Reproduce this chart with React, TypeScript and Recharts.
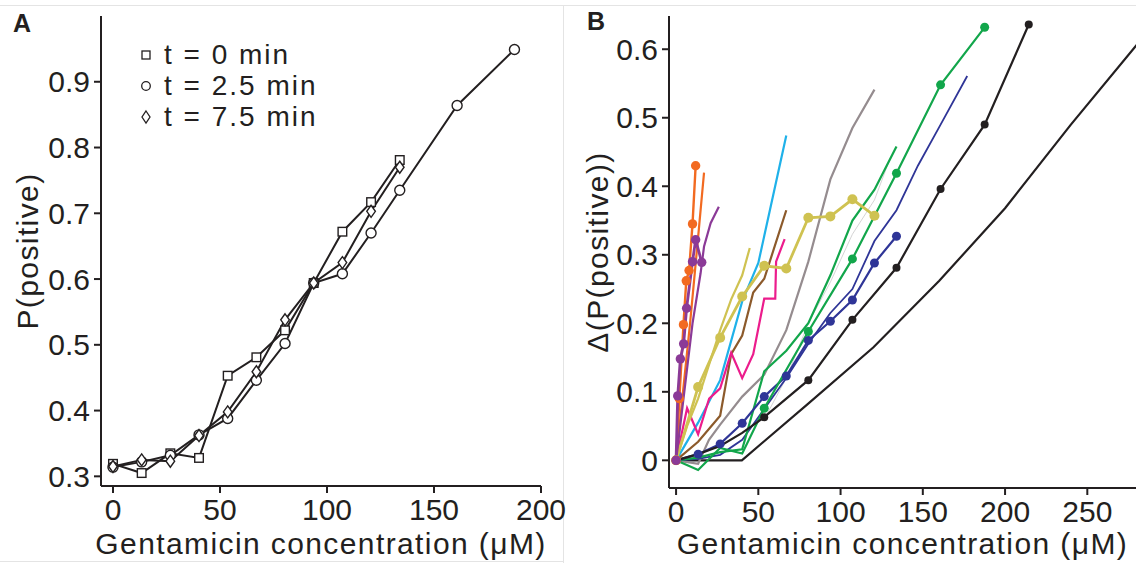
import { LineChart, Line, XAxis, YAxis, Legend } from "recharts";

const INK = "#231f20";
const FONT = "'Liberation Sans', Arial, sans-serif";

// ---- panel A: P(positive) vs gentamicin, three time points
const concA = [0, 13.4, 26.8, 40.2, 53.6, 67, 80.4, 93.8, 107.2, 120.6, 134, 160.8, 187.6];
const pT0 = [0.319, 0.305, 0.335, 0.328, 0.453, 0.481, 0.522, 0.594, 0.672, 0.717, 0.781];
const pT25 = [0.314, 0.322, 0.332, 0.363, 0.388, 0.446, 0.502, 0.594, 0.608, 0.67, 0.735, 0.864, 0.949];
const pT75 = [0.315, 0.325, 0.323, 0.362, 0.398, 0.459, 0.538, 0.594, 0.625, 0.703, 0.77];
const ticksAX = [0, 50, 100, 150, 200];
const ticksAY = [0.3, 0.4, 0.5, 0.6, 0.7, 0.8, 0.9];

// ---- panel B: [concentration, delta P(positive)] per run
const modelCurve = [[0, 0], [40, 0], [80, 0.082], [120, 0.165], [160, 0.262], [200, 0.368], [240, 0.49], [282, 0.612]];
const blackDots = [[0, 0], [13.4, 0.009], [26.8, 0.021], [40.2, 0.04], [53.6, 0.063], [80.4, 0.117], [107.2, 0.205], [134, 0.281], [160.8, 0.396], [187.6, 0.49], [214.4, 0.636]];
const greenDots = [[0, 0], [13.4, -0.014], [26.8, 0.018], [40.2, 0.01], [53.6, 0.076], [80.4, 0.188], [107.2, 0.294], [134, 0.419], [160.8, 0.548], [187.6, 0.632]];
const greenThin = [[0, 0], [13.4, 0.004], [26.8, 0.012], [40.2, 0.016], [53.6, 0.13], [67, 0.16], [80.4, 0.2], [93.8, 0.27], [107.2, 0.35], [120.6, 0.395], [134, 0.458]];
const navyDots = [[0, 0], [13.4, 0.009], [26.8, 0.024], [40.2, 0.054], [53.6, 0.093], [67, 0.123], [80.4, 0.175], [93.8, 0.203], [107.2, 0.234], [120.6, 0.288], [134, 0.327]];
const navyThin = [[0, 0], [13.4, 0.002], [26.8, 0.008], [40.2, 0.03], [53.6, 0.075], [67, 0.12], [80.4, 0.17], [93.8, 0.215], [107.2, 0.25], [120.6, 0.32], [134, 0.365], [147, 0.43], [160.8, 0.49], [177, 0.561]];
const grayRun = [[0, 0], [13.4, -0.005], [20, 0.03], [26.8, 0.052], [40.2, 0.093], [53.6, 0.125], [67, 0.19], [80.4, 0.29], [93.8, 0.41], [107.2, 0.485], [120.6, 0.541]];
const faintRun = [[53.6, 0.06], [67, 0.12], [80.4, 0.2], [93.8, 0.26], [107.2, 0.33], [120.6, 0.38], [130, 0.44]];
const yellowDots = [[0, 0], [13.4, 0.107], [26.8, 0.179], [40.2, 0.239], [53.6, 0.284], [67, 0.28], [80.4, 0.354], [93.8, 0.356], [107.2, 0.381], [120.6, 0.357]];
const yellowThin = [[0, 0], [6.7, 0.05], [13.4, 0.09], [20.1, 0.14], [26.8, 0.19], [33.5, 0.235], [40.2, 0.27], [44.8, 0.31]];
const cyanRun = [[0, 0], [13.4, 0.055], [26.8, 0.117], [40.2, 0.232], [50, 0.288], [67, 0.474]];
const brownRun = [[0, 0], [13.4, 0.027], [26.8, 0.065], [33.5, 0.155], [40.2, 0.182], [46.9, 0.245], [53.6, 0.265], [67, 0.365]];
const pinkRun = [[0, 0], [6.7, 0.076], [13.4, 0.038], [20.1, 0.09], [26.8, 0.105], [33.5, 0.157], [40.2, 0.12], [46.9, 0.155], [53.6, 0.236], [60.3, 0.236], [60.8, 0.29], [66, 0.323]];
const orangeDots = [[0, 0], [2, 0.09], [4.5, 0.198], [6.2, 0.262], [7.9, 0.277], [10, 0.345], [11.9, 0.43]];
const orangeThin = [[0, 0], [4.2, 0.1], [8.5, 0.2], [12.8, 0.31], [17, 0.42]];
const purpleDots = [[0, 0], [1, 0.094], [2.6, 0.148], [4.6, 0.17], [6.4, 0.222], [10, 0.29], [11.9, 0.322], [15.6, 0.289]];
const purpleThin = [[0, 0], [5, 0.1], [10, 0.2], [14.9, 0.273], [17, 0.312], [21, 0.346], [26, 0.37]];
const ticksBX = [0, 50, 100, 150, 200, 250];
const ticksBY = [0, 0.1, 0.2, 0.3, 0.4, 0.5, 0.6];

const pts = (arr: number[][]) => arr.map(([x, y]) => ({ x, y }));
const zipA = (ys: number[]) => ys.map((y, i) => ({ x: concA[i], y }));

const square = (p: any) => (
  <rect key={`sq${p.index}`} x={p.cx - 4.3} y={p.cy - 4.3} width={8.6} height={8.6} fill="#fff" stroke={INK} strokeWidth={1.4} />
);
const ring = (p: any) => <circle key={`ci${p.index}`} cx={p.cx} cy={p.cy} r={5} fill="#fff" stroke={INK} strokeWidth={1.4} />;
const diamond = (p: any) => (
  <polygon
    key={`di${p.index}`}
    points={`${p.cx},${p.cy - 6} ${p.cx + 4.3},${p.cy} ${p.cx},${p.cy + 6} ${p.cx - 4.3},${p.cy}`}
    fill="#fff"
    stroke={INK}
    strokeWidth={1.4}
  />
);

const markerFor: Record<string, (cx: number, cy: number) => JSX.Element> = {
  "t = 0 min": (cx, cy) => <rect x={cx - 4} y={cy - 4} width={8} height={8} fill="#fff" stroke={INK} strokeWidth={1.3} />,
  "t = 2.5 min": (cx, cy) => <circle cx={cx} cy={cy} r={4.3} fill="#fff" stroke={INK} strokeWidth={1.3} />,
  "t = 7.5 min": (cx, cy) => (
    <polygon points={`${cx},${cy - 6} ${cx + 4},${cy} ${cx},${cy + 6} ${cx - 4},${cy}`} fill="#fff" stroke={INK} strokeWidth={1.3} />
  ),
};

function LegendA({ payload }: any) {
  return (
    <div>
      {(payload || []).map((e: any) => (
        <div key={e.value} style={{ display: "flex", alignItems: "center", height: 31 }}>
          <svg width={16} height={16}>{markerFor[e.value]?.(8, 8)}</svg>
          <span style={{ marginLeft: 10, fontSize: 28, lineHeight: "31px", letterSpacing: 2, color: INK }}>{e.value}</span>
        </div>
      ))}
    </div>
  );
}

const dotB = (color: string, r: number, hide: number[] = []) => (p: any) =>
  hide.includes(p.index) ? (
    <g key={`h${p.index}`} />
  ) : (
    <circle key={`d${p.index}`} cx={p.cx} cy={p.cy} r={r} fill={color} stroke="none" />
  );

const tickStyle = { fill: INK, fontSize: 30 };
const titleStyle = { fill: INK, fontSize: 30, letterSpacing: "1.4px" };

function PanelA() {
  return (
    <LineChart width={570} height={563} margin={{ top: 16, right: 29, bottom: 0, left: 0 }}>
      <XAxis
        type="number"
        dataKey="x"
        domain={[-5.6, 200]}
        ticks={ticksAX}
        allowDataOverflow
        height={77}
        tickSize={7}
        tickMargin={6}
        tick={tickStyle}
        axisLine={{ stroke: INK, strokeWidth: 2 }}
        tickLine={{ stroke: INK, strokeWidth: 2 }}
        label={{ value: "Gentamicin concentration (μM)", position: "insideBottom", offset: 9, style: titleStyle }}
      />
      <YAxis
        type="number"
        domain={[0.2853, 1.0]}
        ticks={ticksAY}
        allowDataOverflow
        width={101}
        tickSize={7}
        tickMargin={4}
        tick={tickStyle}
        axisLine={{ stroke: INK, strokeWidth: 2 }}
        tickLine={{ stroke: INK, strokeWidth: 2 }}
        label={{ value: "P(positive)", angle: -90, position: "insideLeft", offset: 27, style: { ...titleStyle, textAnchor: "middle" } }}
      />
      <Legend
        layout="vertical"
        align="center"
        verticalAlign="middle"
        content={<LegendA />}
        wrapperStyle={{ left: 138, top: 39, width: 220 }}
      />
      <Line name="t = 0 min" data={zipA(pT0)} dataKey="y" stroke={INK} strokeWidth={2} dot={square} isAnimationActive={false} />
      <Line name="t = 2.5 min" data={zipA(pT25)} dataKey="y" stroke={INK} strokeWidth={2} dot={ring} isAnimationActive={false} />
      <Line name="t = 7.5 min" data={zipA(pT75)} dataKey="y" stroke={INK} strokeWidth={2} dot={diamond} isAnimationActive={false} />
    </LineChart>
  );
}

const runsB = [
  { key: "model", data: modelCurve, color: INK, w: 2.2, dot: false as any },
  { key: "faint", data: faintRun, color: "#c9c9c9", w: 0.8, dot: false as any },
  { key: "gray", data: grayRun, color: "#958c8f", w: 2.2, dot: false as any },
  { key: "navyThin", data: navyThin, color: "#2f3597", w: 1.8, dot: false as any },
  { key: "greenThin", data: greenThin, color: "#12a64b", w: 2.2, dot: false as any },
  { key: "navyDots", data: navyDots, color: "#2f3597", w: 2.2, dot: dotB("#2f3597", 4.5) },
  { key: "greenDots", data: greenDots, color: "#12a64b", w: 2.2, dot: dotB("#12a64b", 4.5, [1, 2, 3]) },
  { key: "blackDots", data: blackDots, color: INK, w: 2.2, dot: dotB(INK, 4, [1, 2, 3]) },
  { key: "cyan", data: cyanRun, color: "#1fb1e9", w: 2.2, dot: false as any },
  { key: "brown", data: brownRun, color: "#8c5a2b", w: 2.2, dot: false as any },
  { key: "pink", data: pinkRun, color: "#ec1c8c", w: 2.2, dot: false as any },
  { key: "yellowThin", data: yellowThin, color: "#cfc251", w: 2.2, dot: false as any },
  { key: "yellowDots", data: yellowDots, color: "#cfc251", w: 2.8, dot: dotB("#cfc251", 5) },
  { key: "orangeThin", data: orangeThin, color: "#f26a21", w: 2.2, dot: false as any },
  { key: "orangeDots", data: orangeDots, color: "#f26a21", w: 2.4, dot: dotB("#f26a21", 4.7) },
  { key: "purpleThin", data: purpleThin, color: "#8b3a97", w: 2.2, dot: false as any },
  { key: "purpleDots", data: purpleDots, color: "#8b3a97", w: 2.8, dot: dotB("#8b3a97", 4.7) },
];

function PanelB() {
  return (
    <LineChart width={561} height={563} margin={{ top: 16, right: 0, bottom: 0, left: 0 }}>
      <XAxis
        type="number"
        dataKey="x"
        domain={[-4.3, 279.6]}
        ticks={ticksBX}
        allowDataOverflow
        height={75}
        tickSize={7}
        tickMargin={6}
        tick={tickStyle}
        axisLine={{ stroke: INK, strokeWidth: 2 }}
        tickLine={{ stroke: INK, strokeWidth: 2 }}
        label={{ value: "Gentamicin concentration (μM)", position: "insideBottom", offset: 9, style: titleStyle }}
      />
      <YAxis
        type="number"
        domain={[-0.0404, 0.6485]}
        ticks={ticksBY}
        allowDataOverflow
        width={94}
        tickSize={7}
        tickMargin={4}
        tick={tickStyle}
        axisLine={{ stroke: INK, strokeWidth: 2 }}
        tickLine={{ stroke: INK, strokeWidth: 2 }}
        label={{ value: "Δ(P(positive))", angle: -90, position: "insideLeft", offset: 22, style: { ...titleStyle, textAnchor: "middle" } }}
      />
      {runsB.map((r) => (
        <Line
          key={r.key}
          data={pts(r.data)}
          dataKey="y"
          stroke={r.color}
          strokeWidth={r.w}
          dot={r.dot}
          activeDot={false}
          isAnimationActive={false}
        />
      ))}
    </LineChart>
  );
}

const panelLetter = { position: "absolute" as const, fontSize: 25, fontWeight: 700, lineHeight: "24px", color: INK };
const rule = { position: "absolute" as const, background: "#e4e4e4" };

export default function App() {
  return (
    <div style={{ position: "absolute", left: 0, top: 0, width: 1136, height: 563, background: "#fff", fontFamily: FONT, overflow: "hidden" }}>
      <div style={{ ...rule, left: 0, top: 5, width: 1136, height: 1 }} />
      <div style={{ ...rule, left: 563, top: 5, width: 1, height: 558 }} />
      <div style={{ ...rule, left: 0, top: 561, width: 564, height: 1 }} />
      <div style={{ position: "absolute", left: 0, top: 0 }}>
        <PanelA />
      </div>
      <div style={{ position: "absolute", left: 575, top: 0 }}>
        <PanelB />
      </div>
      <div style={{ ...panelLetter, left: 13, top: 11 }}>A</div>
      <div style={{ ...panelLetter, left: 587, top: 9 }}>B</div>
    </div>
  );
}
